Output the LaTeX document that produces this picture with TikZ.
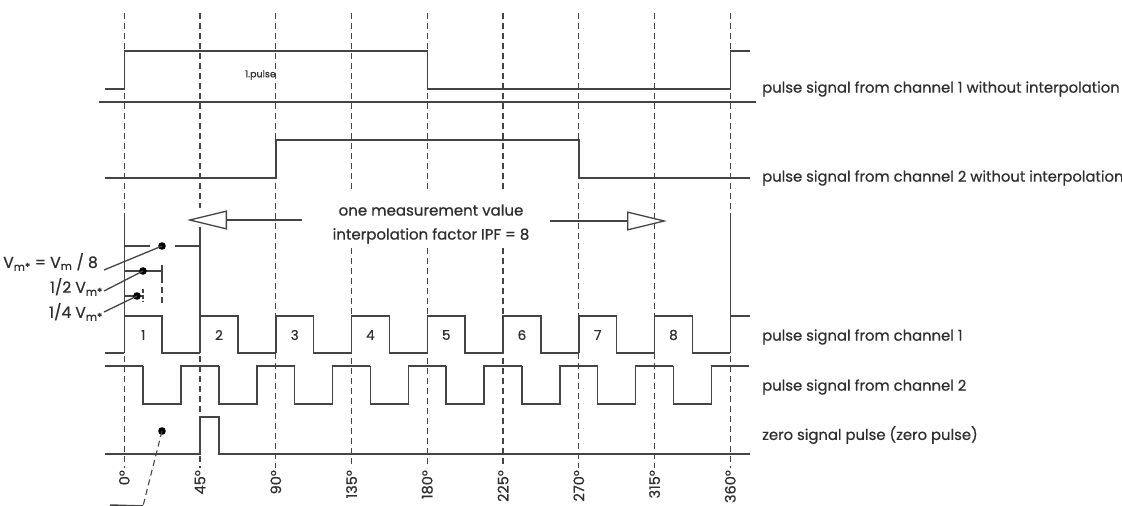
\documentclass[tikz,border=0pt]{standalone}
\usepackage{fontspec}
\setmainfont{Poppins}[FakeBold=0.6]
\usetikzlibrary{arrows.meta, calc}
\definecolor{linegray}{HTML}{444444}
\definecolor{textgray}{HTML}{2E2E2E}
\begin{document}
\begin{tikzpicture}[
    x=1pt, y=-1pt,
    sig/.style={line width=1.5pt, draw=linegray, line join=miter},
    grid/.style={line width=1.3pt, draw=linegray, dash pattern=on 6pt off 4pt},
    lbl/.style={anchor=west, inner sep=0pt, text=textgray, font=\fontsize{14.8}{17}\selectfont},
    vmlbl/.style={anchor=east, inner sep=0pt, text=textgray, font=\fontsize{15.5}{17}\selectfont},
    deg/.style={rotate=90, anchor=east, inner sep=0pt, text=textgray, font=\fontsize{14.5}{16}\selectfont},
    num/.style={inner sep=0pt, text=textgray, font=\fontsize{13.5}{15}\selectfont},
    dot/.style={fill=black},
    bigarrow/.style={sig, -{Triangle[open, length=40pt, width=19pt, line width=1.3pt]}}
]
\useasboundingbox (0,0) rectangle (1122,506);

% angle grid
\foreach \i in {2,6,7}
    \draw[grid] ({124.3+\i*75.75},13) -- ({124.3+\i*75.75},468);
\foreach \i in {3,4,5} {
    \draw[grid] ({124.3+\i*75.75},13) -- ({124.3+\i*75.75},192);
    \draw[grid] ({124.3+\i*75.75},248) -- ({124.3+\i*75.75},468);
}
\foreach \i in {0,8} {
    \draw[grid] ({124.3+\i*75.75},13) -- ({124.3+\i*75.75},213);
    \draw[sig] ({124.3+\i*75.75},213) -- ({124.3+\i*75.75},316);
    \draw[grid] ({124.3+\i*75.75},316) -- ({124.3+\i*75.75},468);
}
\draw[grid] (200,13) -- (200,208);
\draw[sig] (200,227) -- (200,316);
\draw[grid] (200,316) -- (200,468);

\foreach \i/\d in {0/0,1/45,2/90,3/135,4/180,5/225,6/270,7/315,8/360}
    \node[deg] (deg\d) at ({124.3+\i*75.75},470) {\d\textdegree};

% channels without interpolation
\draw[sig] (105,89) -- (124.3,89) -- (124.3,51) -- (427.3,51) -- (427.3,89) -- (730.3,89) -- (730.3,51) -- (750,51);
\draw[sig] (99,102) -- (756,102);
\node[anchor=east, inner sep=0pt, text=textgray, font=\fontsize{9.5}{11}\selectfont] (pulse) at (276,75) {1.pulse};
\draw[sig] (105,178) -- (275.8,178) -- (275.8,140) -- (579,140) -- (579,178) -- (750,178);
\node[lbl] (ch1raw) at (762,89) {pulse signal from channel 1 without interpolation};
\node[lbl] (ch2raw) at (762,178) {pulse signal from channel 2 without interpolation};

% measurement value
\node[align=center, text=textgray, font=\fontsize{15}{24}\selectfont] (meas) at (431,224) {one measurement value\\interpolation factor IPF = 8};
\coordinate (lefttip) at (187,220);
\coordinate (righttip) at (667,221);
\draw[bigarrow] (meas.west |- lefttip) ++(-27,0) -- (lefttip);
\draw[bigarrow] (meas.east |- righttip) ++(17,0) -- (righttip);

% V_m* fractions
\coordinate (d8) at (162,246);
\coordinate (d2) at (143,271);
\coordinate (d4) at (137,296);
\draw[sig] (124.3,246) -- (150,246);
\draw[sig] (175,246) -- (200,246);
\draw[sig] (124.3,271) -- (162,271);
\draw[sig] (162,265) -- (162,277);
\draw[grid] (162,277) -- (162,305);
\draw[sig] (124.3,296) -- (143,296);
\draw[grid, dash pattern=on 4pt off 2pt] (143,289) -- (143,302);
\fill[dot] (d8) circle (3.8);
\fill[dot] (d2) circle (3.8);
\fill[dot] (d4) circle (3.8);
\node[vmlbl] (vm8) at (98,262) {V\textsubscript{m*} = V\textsubscript{m} / 8};
\node[vmlbl] (vm2) at (103,287) {1/2 V\textsubscript{m*}};
\node[vmlbl] (vm4) at (103,312) {1/4 V\textsubscript{m*}};
\coordinate (vm8end) at (104,270);
\coordinate (vm2end) at (104,291);
\coordinate (vm4end) at (104,312);
\draw[sig, line width=1.3pt] (vm8end) -- (d8);
\draw[sig, line width=1.3pt] (vm2end) -- (d2);
\draw[sig, line width=1.3pt] (vm4end) -- (d4);

% channel 1
\draw[sig] (105,353) -- (124.3,353);
\foreach \i in {0,...,7}
    \draw[sig] ({124.3+\i*75.75},353) |- ({162.2+\i*75.75},316) |- ({200.05+\i*75.75},353);
\draw[sig] (730.3,353) |- (750,316);
\foreach \i [evaluate=\i as \n using int(\i+1)] in {0,...,7}
    \node[num] (num\n) at ({143.2+\i*75.75},335) {\n};

% channel 2
\draw[sig] (105,366) -- (143.2,366);
\foreach \i in {0,...,7}
    \draw[sig] ({143.2+\i*75.75},366) |- ({181.1+\i*75.75},404) |- ({218.95+\i*75.75},366);
\node[lbl] (ch1) at (762,337) {pulse signal from channel 1};
\node[lbl] (ch2) at (762,387) {pulse signal from channel 2};

% zero pulse
\draw[sig] (105,454) -- (200,454) -- (200,417) -- (219,417) -- (219,454) -- (750,454);
\node[lbl] (zero) at (762,435) {zero signal pulse (zero pulse)};
\coordinate (z0) at (162,431);
\coordinate (zend) at (143,506);
\fill[dot] (z0) circle (3.8);
\draw[grid, line width=1.1pt] (z0) -- (zend);
\draw[sig] (110,505) -- (zend);
\end{tikzpicture}
\end{document}
